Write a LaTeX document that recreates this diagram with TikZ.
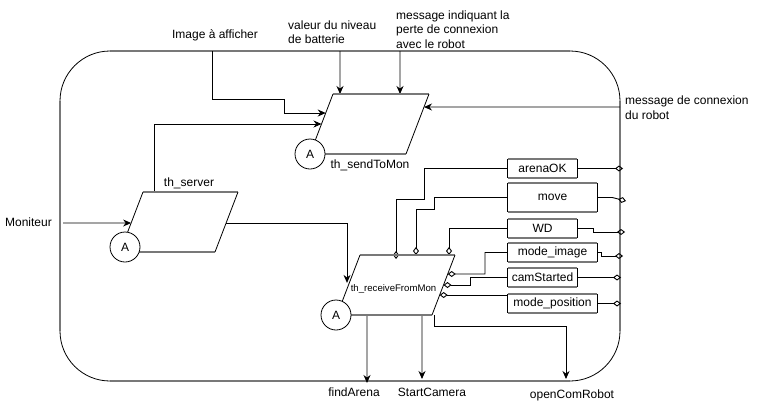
\documentclass[tikz,border=0pt]{standalone}
\usepackage{fontspec}
\setmainfont{Liberation Sans}
\usetikzlibrary{arrows.meta,calc}
\definecolor{edgegray}{RGB}{120,120,120}
\begin{document}
\begin{tikzpicture}[x=1pt,y=-1pt,
  lbl/.style={font=\fontsize{12}{14.5}\selectfont, inner sep=0pt, align=left},
  conn/.style={black, line width=0.9pt},
  arr/.style={conn, -{Stealth[length=8pt,width=7pt]}},
  dia/.style={conn, -{Diamond[open,length=8pt,width=6pt]}},
  hedge/.style={edgegray, line width=1.6pt},
  sedge/.style={black, line width=0.8pt},
  circ/.style={circle, draw, fill=white, minimum size=30pt, inner sep=0pt, line width=0.8pt, font=\fontsize{12}{14}\selectfont},
  boxn/.style={draw=none, minimum height=19pt, inner sep=0pt, font=\fontsize{12}{14}\selectfont},
]
\useasboundingbox (0,0) rectangle (768,407);

% container
\draw[hedge] (110,51) -- (570,51) (620,101) -- (620,331) (570,381) -- (110,381) (60,331) -- (60,101);
\draw[sedge] (60,101) arc[start angle=180, end angle=270, radius=50];
\draw[sedge] (570,51) arc[start angle=270, end angle=360, radius=50];
\draw[sedge] (620,331) arc[start angle=0, end angle=90, radius=50];
\draw[sedge] (110,381) arc[start angle=90, end angle=180, radius=50];

% corner points of the three parallelograms
\coordinate (sBL) at (310,154); \coordinate (sTL) at (333,94);
\coordinate (sTR) at (429,94);  \coordinate (sBR) at (406,154);
\coordinate (vBL) at (120,252); \coordinate (vTL) at (143,192);
\coordinate (vTR) at (238,192); \coordinate (vBR) at (215,252);
\coordinate (rBL) at (337,315); \coordinate (rTL) at (360,255);
\coordinate (rTR) at (455,255); \coordinate (rBR) at (432,315);

% boxes
\node[boxn, minimum width=69pt] (bArena) at (542.5,168.5) {arenaOK};
\node[boxn, minimum width=89pt, minimum height=29pt] (bMove) at (552.5,197.5) {move};
\node[boxn, minimum width=69pt] (bWD) at (542.5,228.5) {WD};
\node[boxn, minimum width=89pt] (bImage) at (552.5,252.5) {mode\_image};
\node[boxn, minimum width=69pt] (bCam) at (542.5,277.5) {camStarted};
\node[boxn, minimum width=89pt] (bPos) at (552.5,303.5) {mode\_position};
\foreach \b in {bArena,bMove,bWD,bImage,bCam,bPos}{
  \draw[hedge] (\b.north west) -- (\b.north east) (\b.south west) -- (\b.south east);
  \draw[sedge] (\b.north west) -- (\b.south west) (\b.north east) -- (\b.south east);
}

% texts
\node[lbl] (tImg) at (215,35) {Image à afficher};
\node[lbl, anchor=west] (tBat) at (288,32) {valeur du niveau\\de batterie};
\node[lbl, anchor=west] (tPerte) at (396,29.5) {message indiquant la\\perte de connexion\\avec le robot};
\node[lbl, anchor=west] (tCon) at (625,107.5) {message de connexion\\du robot};
\node[lbl] (tMon) at (28.5,222.5) {Moniteur};
\node[lbl] (tServer) at (189,183) {th\_server};
\node[lbl] (tSend) at (370,165) {th\_sendToMon};
\node[lbl] (tFind) at (354,392) {findArena};
\node[lbl] (tStart) at (432,392) {StartCamera};
\node[lbl] (tOpen) at (572,395) {openComRobot};

% connection points
\coordinate (imgIn) at (212,51);
\coordinate (batIn) at (340,51);
\coordinate (perteIn) at (400,51);
\coordinate (conIn) at (620,107);
\coordinate (monIn) at (63,223);
\coordinate (sL1) at ($(sBL)!0.683!(sTL)$);
\coordinate (sL2) at ($(sBL)!0.5!(sTL)$);
\coordinate (sT1) at ($(sTL)!0.073!(sTR)$);
\coordinate (sT2) at ($(sTL)!0.698!(sTR)$);
\coordinate (sR1) at ($(sBR)!0.783!(sTR)$);
\coordinate (vL1) at ($(vBL)!0.483!(vTL)$);
\coordinate (vR1) at ($(vBR)!0.483!(vTR)$);
\coordinate (vT1) at ($(vTL)!0.116!(vTR)$);
\coordinate (rIn) at ($(rBL)!0.435!(rTL)+(0,-6)$);
\coordinate (rT1) at ($(rTL)!0.379!(rTR)+(0,4)$);
\coordinate (rT2) at ($(rTL)!0.589!(rTR)$);
\coordinate (rT3) at ($(rTL)!0.937!(rTR)$);
\coordinate (rS1) at ($(rBR)!0.683!(rTR)$);
\coordinate (rS2) at ($(rBR)!0.5!(rTR)$);
\coordinate (rS3) at ($(rBR)!0.333!(rTR)$);
\coordinate (rB1) at ($(rBL)!0.316!(rBR)$);
\coordinate (rB2) at ($(rBL)!0.895!(rBR)$);
\coordinate (rB3) at ($(rBR)+(2,0)$);
\coordinate (findEnd) at (367,383);
\coordinate (startEnd) at (422,379);
\coordinate (openEnd) at (566,379);
\coordinate (rb1) at (623,168.5);
\coordinate (rb2) at (626,201);
\coordinate (rb3) at (625,232);
\coordinate (rb4) at (623,256);
\coordinate (rb5) at (621,277.5);
\coordinate (rb6) at (621,303.5);

% arrows into th_sendToMon
\draw[arr] (imgIn) |- (284,99) |- (sL1);
\draw[arr] (vT1) |- (sL2);
\draw[arr] (batIn) -- (sT1);
\draw[arr] (perteIn) -- (sT2);
\draw[arr] (conIn) -- (sR1);
% into th_server and th_receiveFromMon
\draw[arr] (monIn) -- (vL1);
\draw[arr] (vR1) -| (rIn);
% outputs
\draw[arr] (rB1) -- (findEnd);
\draw[arr] (rB2) -- (startEnd);
\draw[arr] (rB3) |- (566,326) -- (openEnd);
% box links to th_receiveFromMon
\draw[dia] (bArena.west) -| (424,199) -| (rT1);
\draw[dia] (bMove.west) -| (434,209) -| (rT2);
\draw[dia] (bWD.west) -| (rT3);
\draw[dia] (bImage.west) -| (485,274) -- (rS1);
\draw[dia] (bCam.west) -| (470,285) -- (rS2);
\draw[dia] (rS3 -| bPos.west) -- (rS3);
% box links to the border
\draw[dia] (bArena.east) -- (rb1);
\draw[dia] (bMove.east) -- ++(15,0) -- (rb2);
\draw[dia] (bWD.east) -- ++(16,0) |- (rb3);
\draw[dia] (bImage.east) -- ++(4,0) |- (rb4);
\draw[dia] (bCam.east) -- (rb5);
\draw[dia] (bPos.east) -- (rb6);

% parallelograms
\draw[hedge] (sTL) -- (sTR) (sBL) -- (sBR);
\draw[sedge] (sBL) -- (sTL) (sBR) -- (sTR);
\draw[hedge] (vTL) -- (vTR) (vBL) -- (vBR);
\draw[sedge] (vBL) -- (vTL) (vBR) -- (vTR);
\draw[hedge] (rTL) -- (rTR) (rBL) -- (rBR);
\draw[sedge] (rBL) -- (rTL) (rBR) -- (rTR);
\node[font=\fontsize{9.6}{11}\selectfont, inner sep=0pt] (tRecv) at (393.5,289) {th\_receiveFromMon};

% circles
\node[circ] (sA) at (310,154) {A};
\node[circ] (vA) at (125,247) {A};
\node[circ] (rA) at (336,315) {A};
\end{tikzpicture}
\end{document}
